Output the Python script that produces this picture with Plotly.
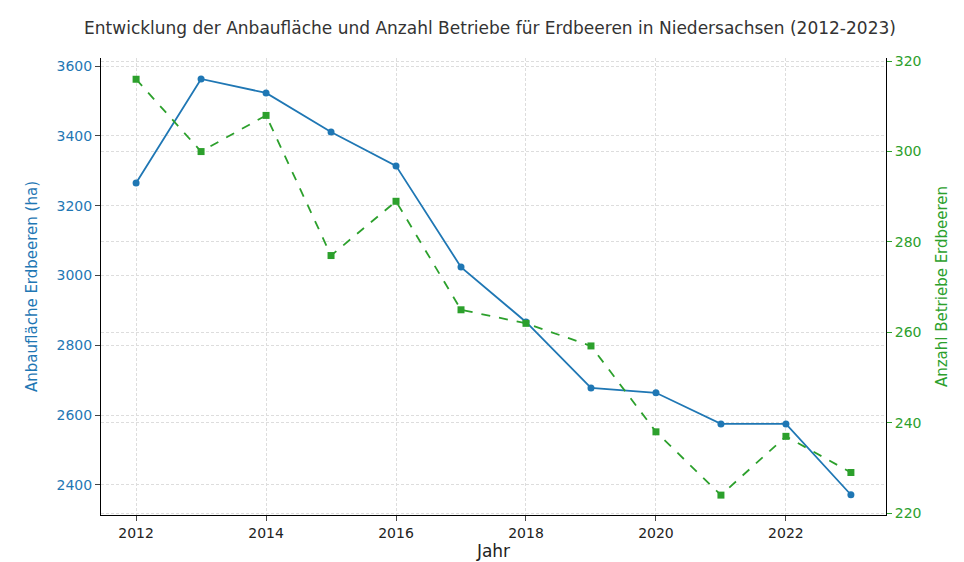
import plotly.graph_objects as go

years = list(range(2012, 2024))
flaeche = [3265, 3563, 3523, 3411, 3314, 3024, 2867, 2678, 2664, 2575, 2575, 2372]
betriebe = [316, 300, 308, 277, 289, 265, 262, 257, 238, 224, 237, 229]

blue = "#1f77b4"
green = "#2ca02c"
fig = go.Figure()
fig.add_trace(go.Scatter(x=years, y=flaeche, mode="lines+markers", line=dict(color=blue, width=1.8),
                         marker=dict(size=7, color=blue), name="Anbaufläche", yaxis="y"))
fig.add_trace(go.Scatter(x=years, y=betriebe, mode="lines+markers", line=dict(color=green, width=1.8, dash="dash"),
                         marker=dict(size=7, color=green, symbol="square"), name="Betriebe", yaxis="y2"))
grid = dict(showgrid=True, gridcolor="#dddddd", griddash="3px,2px", gridwidth=1)
fig.update_layout(
    width=964, height=562, plot_bgcolor="white", paper_bgcolor="white", showlegend=False,
    font=dict(family="DejaVu Sans", size=14, color="#222"),
    margin=dict(l=93, r=86, t=50, b=55, autoexpand=False),
    title=dict(text="Entwicklung der Anbaufläche und Anzahl Betriebe für Erdbeeren in Niedersachsen (2012-2023)",
               x=0.5, xanchor="center", y=0.975, font=dict(size=17, color="#333")),
    xaxis=dict(range=[2011.46, 2023.54], tickvals=list(range(2012, 2024, 2)), title=dict(text="Jahr", standoff=4),
               showline=True, linecolor="black", ticks="outside", zeroline=False, automargin=False, **grid),
    yaxis=dict(range=[2314, 3623], dtick=200, title=dict(text="Anbaufläche Erdbeeren (ha)", font=dict(color=blue, size=15)),
               tickfont=dict(color=blue), showline=True, linecolor="black", ticks="outside", zeroline=False,
               automargin=False, **grid),
    yaxis2=dict(range=[219.6, 320.7], dtick=20, overlaying="y", side="right",
                title=dict(text="Anzahl Betriebe Erdbeeren", font=dict(color=green, size=15)), tickfont=dict(color=green),
                showline=True, linecolor="black", ticks="outside", tickcolor=green, zeroline=False,
                automargin=False, **grid),
)
fig.write_html("out.html")
